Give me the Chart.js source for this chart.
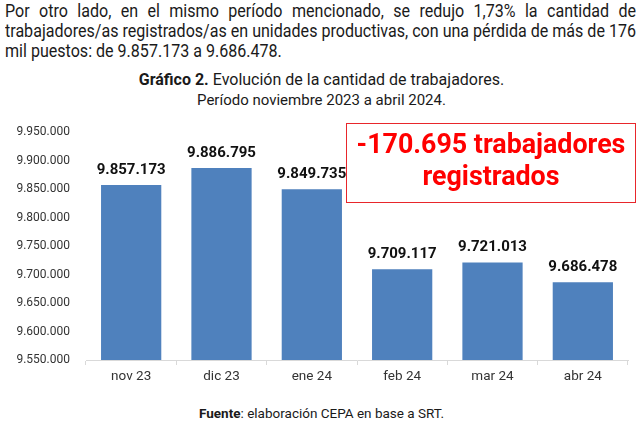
<!DOCTYPE html>
<html><head><meta charset="utf-8">
<script src="https://cdn.jsdelivr.net/npm/chart.js@4.4.1/dist/chart.umd.min.js"></script>
<style>
html,body{margin:0;padding:0;background:#fff;width:643px;height:426px;overflow:hidden;font-family:Roboto,"Noto Sans",sans-serif;color:#1a1a1a}
#para{position:absolute;left:5px;top:1px;transform-origin:0 0;font-size:18px;line-height:20px;color:#1a1a1a}
#para div{white-space:nowrap;text-align:justify;text-align-last:justify}
#para div.last{text-align-last:left}
#title{position:absolute;left:0;width:643px;top:70px;text-align:center;font-size:16px;line-height:20px}
#sub{position:absolute;left:0;width:643px;top:90px;text-align:center;font-size:15px;line-height:20px}
#box{position:absolute;left:346px;top:123px;width:290px;height:80px;border:1.5px solid #e8262b;color:#ff0000;font-weight:bold;font-size:26.8px;line-height:32px;text-align:center;padding-top:4px;box-sizing:border-box}
#foot{position:absolute;left:0;width:643px;top:405px;text-align:center;font-size:13.5px;color:#1a1a1a}
#c{position:absolute;left:0;top:115px;display:block}
#meas{position:absolute;visibility:hidden;white-space:nowrap;font-size:18px}
</style></head><body>
<div id="para">
<div>Por otro lado, en el mismo período mencionado, se redujo 1,73% la cantidad de</div>
<div>trabajadores/as registrados/as en unidades productivas, con una pérdida de más de 176</div>
<div class="last">mil puestos: de 9.857.173 a 9.686.478.</div>
</div>
<span id="meas">trabajadores/as registrados/as en unidades productivas, con una pérdida de más de 176</span>
<div id="title"><b>Gráfico 2.</b> Evolución de la cantidad de trabajadores.</div>
<div id="sub">Período noviembre 2023 a abril 2024.</div>
<canvas id="c" width="643" height="280" style="width:643px;height:280px"></canvas>
<div id="box">-170.695 trabajadores<br>registrados</div>
<div id="foot"><b>Fuente</b>: elaboración CEPA en base a SRT.</div>
<script>
(function(){
  const w = document.getElementById('meas').offsetWidth;
  const s = 631 / w;
  const p = document.getElementById('para');
  p.style.width = (631 / s) + 'px';
  p.style.transform = 'scaleX(' + s + ')';
})();

const categories = ["nov 23","dic 23","ene 24","feb 24","mar 24","abr 24"];
const workers = [9857173, 9886795, 9849735, 9709117, 9721013, 9686478];
const yMin = 9550000, yMax = 9950000, yStep = 50000;

function fmt(v){ return Math.round(v).toString().replace(/\B(?=(\d{3})+(?!\d))/g, "."); }

const valueLabels = {
  id:'valueLabels',
  afterDatasetsDraw(chart){
    const ctx = chart.ctx;
    const meta = chart.getDatasetMeta(0);
    ctx.save();
    ctx.font = 'bold 15px Roboto';
    ctx.fillStyle = '#111';
    ctx.textAlign = 'center';
    ctx.textBaseline = 'middle';
    meta.data.forEach((bar,i)=>{
      ctx.fillText(fmt(workers[i]), bar.x, bar.y - 15);
    });
    ctx.restore();
  }
};

new Chart(document.getElementById('c'), {
  type:'bar',
  data:{labels:categories, datasets:[{data:workers, backgroundColor:'#4f81bd', borderWidth:0, barPercentage:0.667, categoryPercentage:1}]},
  options:{
    responsive:false, animation:false,
    devicePixelRatio: 1,
    layout:{padding:{top:17,right:15,left:0,bottom:0}},
    plugins:{legend:{display:false}, tooltip:{enabled:false}},
    scales:{
      x:{
        grid:{display:true, drawOnChartArea:false, drawTicks:true, tickLength:5, color:'#d9d9d9', offset:true},
        border:{display:true, color:'#d9d9d9', width:1},
        ticks:{color:'#333', font:{family:'Roboto', size:13.5}, padding:4},
        afterFit(s){ s.height = 35; }
      },
      y:{
        min:yMin, max:yMax,
        grid:{display:false, drawTicks:true, tickLength:13},
        border:{display:false},
        ticks:{stepSize:yStep, color:'#333', font:{family:'Roboto', size:12}, padding:3, callback:(v)=>fmt(v)},
        afterFit(s){ s.width = 86; }
      }
    }
  },
  plugins:[valueLabels]
});
</script>
</body></html>
